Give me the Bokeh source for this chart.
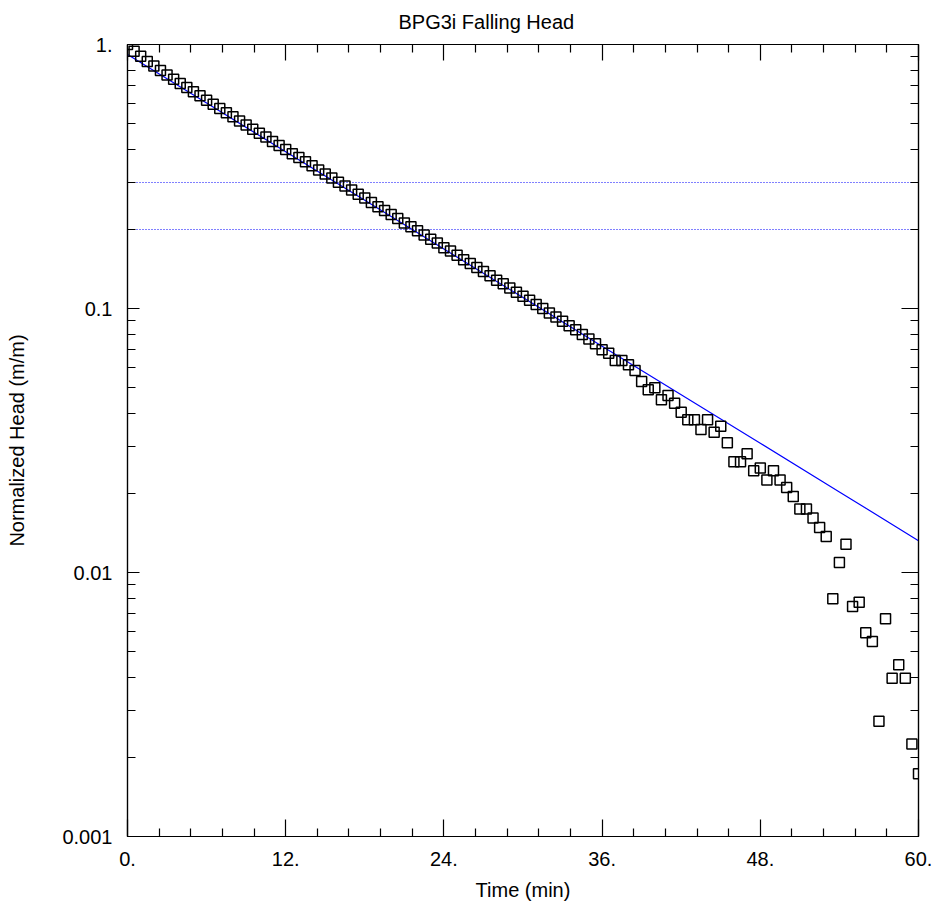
from bokeh.plotting import figure
from bokeh.models import LinearAxis, LogAxis, FixedTicker, Range1d
from bokeh.embed import file_html
from bokeh.resources import INLINE

# ---- data ----
time_min = [
    0.0, 0.5, 1.0, 1.5, 2.0, 2.5, 3.0, 3.5, 4.0, 4.5, 5.0, 5.5, 6.0, 6.5, 7.0, 7.5,
    8.0, 8.5, 9.0, 9.5, 10.0, 10.5, 11.0, 11.5, 12.0, 12.5, 13.0, 13.5, 14.0, 14.5,
    15.0, 15.5, 16.0, 16.5, 17.0, 17.5, 18.0, 18.5, 19.0, 19.5, 20.0, 20.5, 21.0,
    21.5, 22.0, 22.5, 23.0, 23.5, 24.0, 24.5, 25.0, 25.5, 26.0, 26.5, 27.0, 27.5,
    28.0, 28.5, 29.0, 29.5, 30.0, 30.5, 31.0, 31.5, 32.0, 32.5, 33.0, 33.5, 34.0,
    34.5, 35.0, 35.5, 36.0, 36.5, 37.0, 37.5, 38.0, 38.5, 39.0, 39.5, 40.0, 40.5,
    41.0, 41.5, 42.0, 42.5, 43.0, 43.5, 44.0, 44.5, 45.0, 45.5, 46.0, 46.5, 47.0,
    47.5, 48.0, 48.5, 49.0, 49.5, 50.0, 50.5, 51.0, 51.5, 52.0, 52.5, 53.0, 53.5,
    54.0, 54.5, 55.0, 55.5, 56.0, 56.5, 57.0, 57.5, 58.0, 58.5, 59.0, 59.5, 60.0,
]
norm_head = [
    1.000, 0.943, 0.902, 0.863, 0.829, 0.797, 0.767, 0.739, 0.712, 0.687, 0.662,
    0.639, 0.615, 0.594, 0.572, 0.552, 0.533, 0.513, 0.495, 0.478, 0.461, 0.446,
    0.429, 0.414, 0.400, 0.386, 0.373, 0.360, 0.347, 0.335, 0.323, 0.312, 0.301,
    0.291, 0.281, 0.271, 0.262, 0.252, 0.243, 0.235, 0.227, 0.219, 0.211, 0.204,
    0.197, 0.190, 0.183, 0.177, 0.170, 0.165, 0.159, 0.153, 0.148, 0.143, 0.138,
    0.133, 0.128, 0.124, 0.1195, 0.1153, 0.1113, 0.1075, 0.1035, 0.0999, 0.0962,
    0.0929, 0.0895, 0.0861, 0.0830, 0.0797, 0.0766, 0.0735, 0.0698, 0.0677, 0.0635,
    0.0635, 0.0612, 0.0582, 0.0529, 0.0492, 0.0501, 0.0451, 0.0468, 0.0438, 0.0405,
    0.0379, 0.0379, 0.0348, 0.0379, 0.0340, 0.0358, 0.0310, 0.0263, 0.0263, 0.0282,
    0.0243, 0.0249, 0.0224, 0.0243, 0.0224, 0.0210, 0.0194, 0.0174, 0.0174, 0.0161,
    0.0148, 0.0137, 0.00795, 0.0109, 0.0128, 0.00743, 0.00772, 0.00591, 0.00548,
    0.00273, 0.00668, 0.00398, 0.00447, 0.00398, 0.00224, 0.00173,
]

fit_time = [0, 6, 12, 18, 24, 30, 36, 42, 48, 54, 60]
fit_head = [0.916, 0.600, 0.3925, 0.257, 0.168, 0.110, 0.0720, 0.0471, 0.0309, 0.0202, 0.0132]

ref_lines = [0.3, 0.2]

x_ticks = [0, 12, 24, 36, 48, 60]
x_tick_labels = ["0.", "12.", "24.", "36.", "48.", "60."]
y_ticks = [0.001, 0.01, 0.1, 1.0]
y_tick_labels = ["0.001", "0.01", "0.1", "1."]

x_minor = [a + 2.4 * j for a in x_ticks[:-1] for j in range(1, 5)]
y_minor = [d * m for d in y_ticks[:-1] for m in range(2, 10)]

FONT = "Liberation Sans"
FS = "20px"

p = figure(width=934, height=917,
           x_range=Range1d(0, 60), y_range=Range1d(0.001, 1.0),
           y_axis_type="log", output_backend="svg", toolbar_location=None,
           min_border_left=127, min_border_right=16, min_border_top=44,
           min_border_bottom=81, title="BPG3i Falling Head")

p.title.text_font = FONT
p.title.text_font_size = "20px"
p.title.text_font_style = "normal"
p.title.text_color = "black"
p.title.align = "left"
p.title.offset = 271
p.title.standoff = 20
p.title.vertical_align = "top"

p.xgrid.visible = False
p.ygrid.visible = False
p.outline_line_color = "black"
p.outline_line_width = 1.2
p.background_fill_color = "white"
p.border_fill_color = "white"

xa = p.xaxis[0]
xa.ticker = FixedTicker(ticks=x_ticks, minor_ticks=x_minor)
xa.major_label_overrides = dict(zip(x_ticks, x_tick_labels))
xa.axis_label = "Time (min)"
ya = p.yaxis[0]
ya.ticker = FixedTicker(ticks=y_ticks, minor_ticks=y_minor)
ya.major_label_overrides = dict(zip(y_ticks, y_tick_labels))
ya.axis_label = "Normalized Head (m/m)"

for ax, maj in ((xa, 17), (ya, 12)):
    ax.major_tick_in = maj
    ax.major_tick_out = 0
    ax.minor_tick_in = 8
    ax.minor_tick_out = 0
    ax.major_tick_line_color = "black"
    ax.minor_tick_line_color = "black"
    ax.major_tick_line_width = 1.2
    ax.minor_tick_line_width = 1.2
    ax.axis_line_color = "black"
    ax.axis_line_width = 1.2
    ax.major_label_text_font = FONT
    ax.major_label_text_font_size = FS
    ax.major_label_text_color = "black"
    ax.major_label_standoff = 15
    ax.axis_label_text_font = FONT
    ax.axis_label_text_font_size = FS
    ax.axis_label_text_font_style = "normal"
    ax.axis_label_text_color = "black"
ya.axis_label_standoff = 31
xa.axis_label_standoff = 10

top = LinearAxis(ticker=FixedTicker(ticks=x_ticks, minor_ticks=x_minor))
right = LogAxis(ticker=FixedTicker(ticks=y_ticks, minor_ticks=y_minor))
for ax, maj in ((top, 16), (right, 17)):
    ax.major_tick_in = maj
    ax.major_tick_out = 0
    ax.minor_tick_in = 8
    ax.minor_tick_out = 0
    ax.major_tick_line_color = "black"
    ax.minor_tick_line_color = "black"
    ax.major_tick_line_width = 1.2
    ax.minor_tick_line_width = 1.2
    ax.axis_line_color = "black"
    ax.axis_line_width = 1.2
    ax.major_label_text_font_size = "1px"
    ax.major_label_text_alpha = 0
    ax.major_label_standoff = 0
p.add_layout(top, "above")
p.add_layout(right, "right")

p.hspan(y=ref_lines, line_color="#0000FF", line_dash="1 2", line_width=1.2)
p.line(fit_time, fit_head, line_color="#0000FF", line_width=1.2)
p.scatter(time_min, norm_head, marker="square", size=10, fill_color=None,
          line_color="black", line_width=1.5)

open("out.html", "w").write(file_html(p, INLINE))
